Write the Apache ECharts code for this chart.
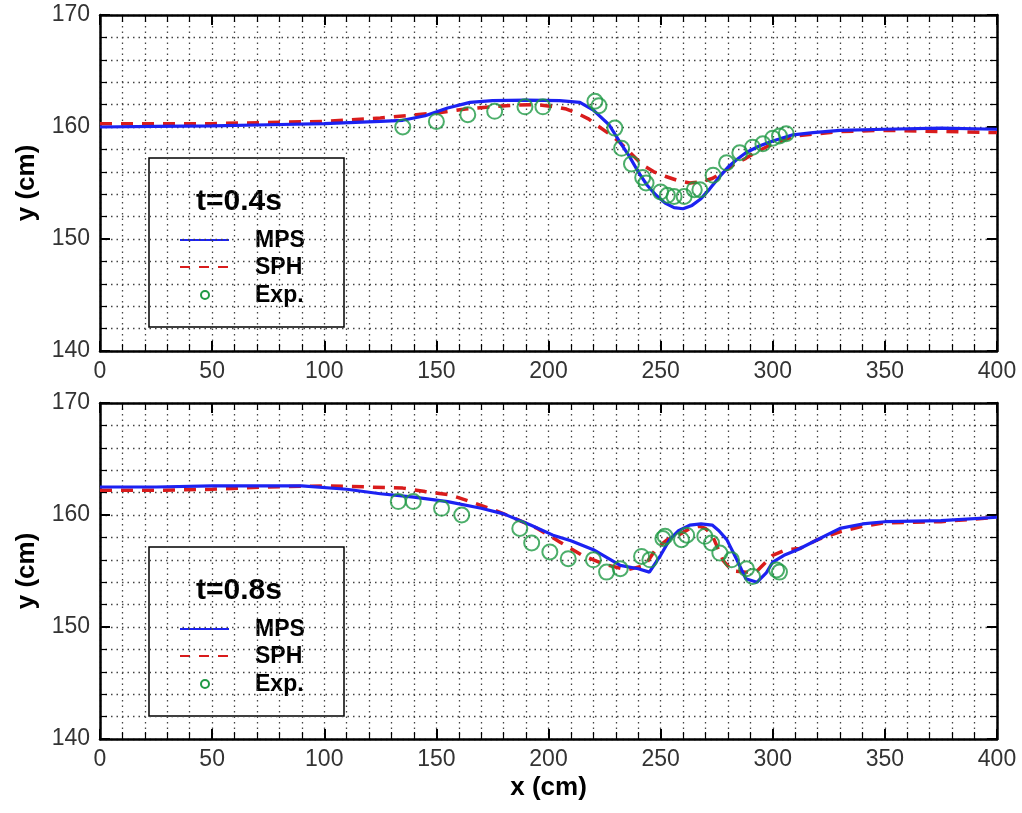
<!DOCTYPE html>
<html>
<head>
<meta charset="utf-8">
<script src="https://cdn.jsdelivr.net/npm/echarts@6/dist/echarts.min.js"></script>
<style>
  html, body { margin: 0; padding: 0; background: #fff; }
  #chart { width: 1022px; height: 813px; }
</style>
</head>
<body>
<div id="chart"></div>
<script>
// Free-surface elevation y (cm) along the channel x (cm)
// Panel t = 0.4 s
const mpsT04 = [
  [0,160.0],[25,160.05],[50,160.1],[75,160.2],[100,160.3],[125,160.5],[135,160.6],[145,161.0],
  [155,161.7],[165,162.2],[175,162.35],[190,162.4],[205,162.35],[214,162.2],[220,161.5],[227,160.2],
  [232,158.6],[236,157.4],[240,156.0],[244,154.8],[248,153.9],[252,153.2],[256,152.8],[260,152.7],
  [264,153.0],[268,153.6],[272,154.5],[276,155.5],[280,156.4],[284,157.1],[288,157.7],[294,158.3],
  [300,158.75],[309,159.3],[318,159.5],[330,159.7],[350,159.8],[375,159.9],[400,159.8]
];
const sphT04 = [
  [0,160.3],[25,160.3],[50,160.3],[75,160.4],[100,160.5],[125,160.8],[141,161.1],[152,161.3],
  [163,161.6],[174,161.8],[185,161.95],[195,162.0],[203,161.8],[208,161.6],[213,161.2],[218,160.7],
  [222,160.1],[227,159.4],[232,158.6],[237,157.6],[242,156.6],[247,156.0],[252,155.6],[258,155.2],
  [263,155.0],[268,155.1],[273,155.4],[278,156.0],[283,156.7],[288,157.2],[293,157.8],[298,158.3],
  [303,158.7],[310,159.2],[320,159.4],[330,159.6],[350,159.7],[375,159.6],[400,159.5]
];
const expT04 = [
  [135,160.0],[150,160.5],[164,161.1],[176,161.4],[189.5,161.8],[197.5,161.8],[220.7,162.3],[222.5,161.9],
  [229.6,159.9],[232.6,158.1],[237,156.7],[242,155.5],[243.5,155.0],[250,154.2],[253,153.9],[256,153.8],
  [260.5,153.8],[265,154.4],[267.5,154.4],[273.4,155.7],[279.4,156.8],[285.3,157.7],[291,158.2],
  [295.6,158.5],[300,159.0],[303,159.2],[306,159.4]
];

// Panel t = 0.8 s
const mpsT08 = [
  [0,162.5],[25,162.5],[50,162.6],[75,162.6],[90,162.6],[110,162.3],[125,161.9],[140,161.6],
  [155,161.2],[170,160.6],[180,160.1],[192,159.1],[202,158.2],[210,157.7],[220,156.9],[232,155.5],
  [240,155.2],[245,154.9],[250,156.4],[254,157.8],[258,158.6],[263,159.1],[268,159.2],[273,159.1],
  [276,158.6],[279.5,157.8],[284,156.0],[288,154.3],[293,154.0],[297,154.8],[300,155.8],[305,156.4],
  [311,156.9],[321,157.9],[330,158.8],[340,159.2],[350,159.4],[375,159.5],[400,159.8]
];
const sphT08 = [
  [0,162.2],[25,162.2],[50,162.3],[75,162.5],[100,162.6],[120,162.5],[135,162.4],[145,162.1],
  [156,161.8],[165,161.2],[175,160.5],[185,159.7],[195,158.8],[205,157.6],[215,156.4],[225,155.6],
  [235,155.1],[243,155.5],[248,157.0],[253,157.8],[258,158.2],[263,158.8],[267,159.0],[270,158.8],
  [273,158.2],[276,156.8],[278,155.9],[282,155.0],[288,154.9],[293,155.0],[297,155.8],[300,156.4],
  [306,156.9],[312,157.0],[320,157.8],[330,158.5],[340,159.0],[350,159.3],[375,159.4],[400,159.8]
];
const expT08 = [
  [133,161.2],[139.7,161.2],[152.3,160.6],[161.3,160.0],[187.2,158.8],[192.5,157.5],[200.6,156.7],
  [208.8,156.1],[220,156.0],[225.9,154.9],[232,155.2],[241.5,156.3],[245.2,156.0],[251,157.9],
  [252,158.1],[259.3,157.8],[261.6,158.2],[269.7,158.1],[272.7,157.5],[276.4,156.6],[281.6,156.0],
  [288.3,155.2],[291,154.5],[301.7,155.1],[303,154.9]
];

const panelTitles = ['t=0.4s', 't=0.8s'];
const seriesNames = ['MPS', 'SPH', 'Exp.'];
const xRange = [0, 400];
const yRange = [140, 170];

const FONT = '"Liberation Sans", Arial, sans-serif';
const BLUE = '#1c22f2';
const RED = '#d91c1c';
const GREEN = '#1f9a45';
const GRID_TOP = [15, 403];
const GRID_H = 336;

const dotted = { color: '#444', width: 1.3, type: [1.5, 4] };

function mainX(gi, withName) {
  return {
    type: 'value', gridIndex: gi, min: xRange[0], max: xRange[1], interval: 50,
    axisLine: { show: true, onZero: false, lineStyle: { color: '#000', width: 2.5 } },
    axisTick: { show: true, inside: true, length: 10, lineStyle: { color: '#000', width: 2 } },
    minorTick: { show: true, splitNumber: 5, length: 7, lineStyle: { color: '#000', width: 1.2 } },
    splitLine: { show: true, lineStyle: dotted },
    minorSplitLine: { show: true, lineStyle: dotted },
    axisLabel: { fontFamily: FONT, fontSize: 23, color: '#333', margin: 9 },
    name: withName ? 'x (cm)' : '', nameLocation: 'middle', nameGap: 36,
    nameTextStyle: { fontFamily: FONT, fontSize: 26, fontWeight: 'bold', color: '#000' }
  };
}
function mirrorX(gi) {
  return {
    type: 'value', gridIndex: gi, position: 'top', min: xRange[0], max: xRange[1], interval: 50,
    axisLine: { show: true, onZero: false, lineStyle: { color: '#000', width: 2.5 } },
    axisTick: { show: true, inside: true, length: 10, lineStyle: { color: '#000', width: 2 } },
    minorTick: { show: true, splitNumber: 5, length: 7, lineStyle: { color: '#000', width: 1.2 } },
    splitLine: { show: false }, axisLabel: { show: false }
  };
}
function mainY(gi) {
  return {
    type: 'value', gridIndex: gi, min: yRange[0], max: yRange[1], interval: 10,
    axisLine: { show: true, onZero: false, lineStyle: { color: '#000', width: 2.5 } },
    axisTick: { show: true, inside: true, length: 10, lineStyle: { color: '#000', width: 2 } },
    minorTick: { show: true, splitNumber: 5, length: 7, lineStyle: { color: '#000', width: 1.2 } },
    splitLine: { show: true, lineStyle: dotted },
    minorSplitLine: { show: true, lineStyle: dotted },
    axisLabel: { fontFamily: FONT, fontSize: 23, color: '#333', margin: 10 },
    name: 'y (cm)', nameLocation: 'middle', nameGap: 60, nameRotate: 90,
    nameTextStyle: { fontFamily: FONT, fontSize: 26, fontWeight: 'bold', color: '#000' }
  };
}
function mirrorY(gi) {
  return {
    type: 'value', gridIndex: gi, position: 'right', min: yRange[0], max: yRange[1], interval: 10,
    axisLine: { show: true, onZero: false, lineStyle: { color: '#000', width: 2.5 } },
    axisTick: { show: true, inside: true, length: 10, lineStyle: { color: '#000', width: 2 } },
    minorTick: { show: true, splitNumber: 5, length: 7, lineStyle: { color: '#000', width: 1.2 } },
    splitLine: { show: false }, axisLabel: { show: false }
  };
}

function panelSeries(gi, mps, sph, exp) {
  const ax = { xAxisIndex: gi * 2, yAxisIndex: gi * 2 };
  return [
    Object.assign({
      name: seriesNames[0], type: 'line', data: mps, showSymbol: false, symbol: 'none',
      lineStyle: { color: BLUE, width: 3.2 }, z: 4
    }, ax),
    Object.assign({
      name: seriesNames[1], type: 'line', data: sph, showSymbol: false, symbol: 'none',
      lineStyle: { color: RED, width: 3.5, type: [12, 9] }, z: 3
    }, ax),
    Object.assign({
      name: seriesNames[2], type: 'scatter', data: exp, symbol: 'circle', symbolSize: 15,
      itemStyle: { color: 'rgba(0,0,0,0)', borderColor: GREEN, borderWidth: 2 }, z: 5
    }, ax)
  ];
}

// Key box drawn inside each panel
function keyBox(gi) {
  const dy = gi === 0 ? 0 : 389;
  const label = (text, x, y, size, align) => ({
    type: 'text', x: x, y: y,
    style: { text: text, fontFamily: FONT, fontWeight: 'bold', fontSize: size, fill: '#000',
             align: align, verticalAlign: 'middle' }
  });
  return {
    type: 'group', z: 100,
    children: [
      { type: 'rect', shape: { x: 149, y: 158 + dy, width: 195, height: 169 },
        style: { fill: '#fff', stroke: '#000', lineWidth: 1.5 } },
      label(panelTitles[gi], 239, 202 + dy, 30, 'center'),
      { type: 'line', shape: { x1: 180, y1: 240 + dy, x2: 229, y2: 240 + dy },
        style: { stroke: BLUE, lineWidth: 2 } },
      label(seriesNames[0], 255, 241 + dy, 23, 'left'),
      { type: 'line', shape: { x1: 180, y1: 267 + dy, x2: 229, y2: 267 + dy },
        style: { stroke: RED, lineWidth: 2, lineDash: [10, 9] } },
      label(seriesNames[1], 255, 268 + dy, 23, 'left'),
      { type: 'circle', shape: { cx: 205, cy: 295 + dy, r: 4 },
        style: { fill: 'none', stroke: GREEN, lineWidth: 2 } },
      label(seriesNames[2], 255, 296 + dy, 23, 'left')
    ]
  };
}

const chart = echarts.init(document.getElementById('chart'), null, { renderer: 'canvas' });
chart.setOption({
  animation: false,
  backgroundColor: '#fff',
  grid: [
    { left: 100, top: GRID_TOP[0], width: 897, height: GRID_H },
    { left: 100, top: GRID_TOP[1], width: 897, height: GRID_H }
  ],
  xAxis: [mainX(0, false), mirrorX(0), mainX(1, true), mirrorX(1)],
  yAxis: [mainY(0), mirrorY(0), mainY(1), mirrorY(1)],
  series: [].concat(
    panelSeries(0, mpsT04, sphT04, expT04),
    panelSeries(1, mpsT08, sphT08, expT08)
  ),
  graphic: [keyBox(0), keyBox(1)]
});
</script>
</body>
</html>
